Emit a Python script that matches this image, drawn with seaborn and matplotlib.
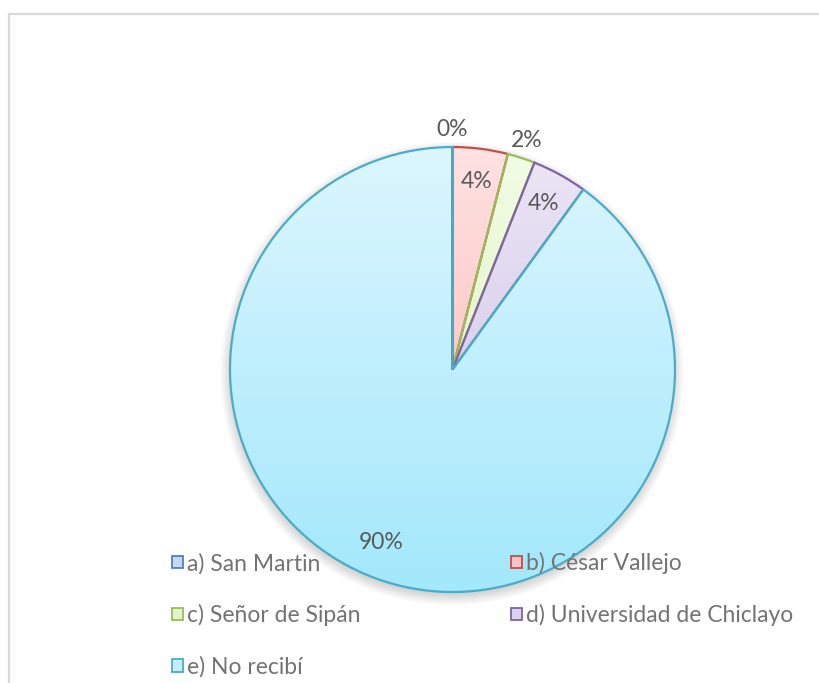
import numpy as np
import matplotlib
matplotlib.use("Agg")
import matplotlib.pyplot as plt
import seaborn as sns
from matplotlib.colors import LinearSegmentedColormap
from matplotlib.patches import Patch
from matplotlib.lines import Line2D

# Survey answers and their shares (percent)
categories = ["a) San Martin", "b) César Vallejo", "c) Señor de Sipán",
              "d) Universidad de Chiclayo", "e) No recibí"]
percentages = [0, 4, 2, 4, 90]
pct_labels = ["0%", "4%", "2%", "4%", "90%"]

# Slice styling: outline colour, gradient (top -> bottom) and legend swatch
edge_colors = ["#4f81bd", "#c0504d", "#9bbb59", "#8064a2", "#4bacc6"]
top_fill = ["#dfe8f6", "#ffe2e2", "#f2fce6", "#ece6f6", "#dcf6fe"]
bottom_fill = ["#a9c4ea", "#f7b0ae", "#d5efb0", "#c9bbe2", "#a3e8fc"]
legend_fill = ["#c6d7f0", "#f8c4c3", "#e3f4cb", "#dcd3ec", "#c4eff9"]

sns.set_theme(style="white")
plt.rcParams["font.family"] = ["Lato", "DejaVu Sans"]

W, H = 820, 683
fig = plt.figure(figsize=(W / 100, H / 100), dpi=100)
fig.patch.set_facecolor("white")

# Light chart-area frame (top and left edges)
fig.add_artist(Line2D([9 / W, 9 / W], [0, 1 - 14 / H], color="#d9d9d9", lw=1.6))
fig.add_artist(Line2D([9 / W, 1], [1 - 14 / H, 1 - 14 / H], color="#d9d9d9", lw=1.6))

cx, cy, R = 452.5, 369.5, 222.5
half = 262
ax = fig.add_axes([(cx - half) / W, (H - cy - half) / H, 2 * half / W, 2 * half / H])

wedges, _ = ax.pie(percentages, startangle=90, counterclock=False, radius=1,
                   wedgeprops=dict(linewidth=1.6))

grad = np.linspace(0, 1, 256).reshape(-1, 1)
for w, ec, top, bot in zip(wedges, edge_colors, top_fill, bottom_fill):
    w.set_edgecolor(ec)
    w.set_facecolor("none")
    w.set_zorder(3)
    cmap = LinearSegmentedColormap.from_list("g", [bot, top])
    im = ax.imshow(grad, extent=(-1, 1, -1, 1), origin="lower", cmap=cmap,
                   aspect="auto", zorder=2, interpolation="bilinear")
    im.set_clip_path(w)

# Soft drop shadow under the pie
n = 600
xs = np.linspace(-1.2, 1.2, n)
X, Y = np.meshgrid(xs, xs)
D = np.hypot(X, Y + 0.02)
alpha = 0.30 * np.clip((1.045 - D) / 0.06, 0, 1)
shadow = np.zeros((n, n, 4))
shadow[..., :3] = 0.35
shadow[..., 3] = alpha
ax.imshow(shadow, extent=(-1.2, 1.2, -1.2, 1.2), origin="lower", zorder=1,
          interpolation="bilinear", aspect="auto")

# Percentage labels: small slices outside, others inside
for w, lab, v in zip(wedges, pct_labels, percentages):
    mid = np.deg2rad((w.theta1 + w.theta2) / 2)
    if v < 3:
        r = 1.08
    elif v > 50:
        r = 0.84
        mid -= np.deg2rad(4.5)
    else:
        r = 0.85
    ax.text(r * np.cos(mid), r * np.sin(mid), lab, ha="center", va="center",
            fontsize=16.5, color="#595959", zorder=5)

lim = half / R
ax.set_xlim(-lim, lim)
ax.set_ylim(-lim, lim)
ax.set_aspect("equal")
ax.axis("off")

# Legend laid out row by row: (a, b), (c, d), (e)
handles = [Patch(facecolor=f, edgecolor=e, linewidth=1.3)
           for f, e in zip(legend_fill, edge_colors)]
order = [0, 2, 4, 1, 3]
leg = fig.legend([handles[i] for i in order], [categories[i] for i in order],
                 ncol=2, loc="upper left",
                 bbox_to_anchor=(172 / W, 1 - 552 / H),
                 frameon=False, fontsize=16.5, labelcolor="#737373",
                 handlelength=0.48, handleheight=0.48, handletextpad=0.18,
                 labelspacing=1.31, columnspacing=6.55, borderpad=0,
                 borderaxespad=0)
leg.set_zorder(10)

fig.savefig("out.png", dpi=100, facecolor="white")
